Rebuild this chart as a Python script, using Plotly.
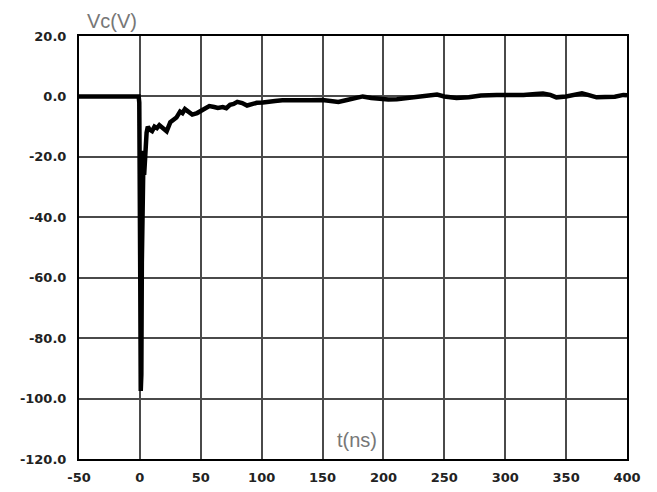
import plotly.graph_objects as go

# time (ns) and voltage Vc (V)
t_ns = [-50, -1, -0.5, 0, 0.3, 0.7, 1.2, 1.6, 2.0, 2.5, 3.0, 3.5, 4.0, 4.5, 5.5, 6.5,
        8, 10, 12, 14, 16, 19, 22, 25, 28, 30, 33, 35, 37, 40, 43, 47, 51, 54, 57,
        61, 64, 68, 71, 74, 77, 80, 84, 88, 92, 96, 101, 106, 111, 117, 124, 131,
        140, 150, 157, 163, 170, 178, 183, 190, 197, 204, 211, 220, 230, 237, 244,
        250, 255, 260, 270, 280, 293, 305, 315, 325, 331, 337, 342, 350, 358, 363,
        368, 375, 382, 390, 397, 400]
vc_v = [0.0, 0.0, -2, -20, -60, -97.5, -92, -55, -35, -25, -18, -26, -20, -13, -12, -10,
        -11, -11.5, -10, -10.5, -9.5, -10.5, -11.5, -8.5, -7.5, -7, -5, -5.5, -4.2, -5, -6,
        -5.5, -4.7, -4, -3.2, -3.5, -3.8, -3.5, -3.9, -2.8, -2.5, -1.8, -2.2, -3, -2.4,
        -2.1, -2.0, -1.9, -1.5, -1.3, -1.4, -1.3, -1.3, -1.2, -1.4, -1.8, -1.2, -0.5,
        0.0, -0.5, -0.8, -1.0, -0.9, -0.5, 0.0, 0.4, 0.6, 0.0, -0.4, -0.5, -0.3, 0.3,
        0.5, 0.3, 0.5, 0.8, 1.0, 0.5, -0.3, 0.0, 0.6, 1.0, 0.5, -0.3, -0.2, -0.1, 0.5, 0.4]

x_ticks = [-50, 0, 50, 100, 150, 200, 250, 300, 350, 400]
y_ticks = [20, 0, -20, -40, -60, -80, -100, -120]
y_tick_text = ["20.0", "0.0", "-20.0", "-40.0", "-60.0", "-80.0", "-100.0", "-120.0"]

fig = go.Figure()
fig.add_trace(go.Scatter(x=t_ns, y=vc_v, mode="lines",
                         line=dict(color="black", width=4.5), showlegend=False))

tickfont = dict(family="DejaVu Sans", size=13, color="#222222", weight="bold")

fig.update_layout(
    width=657, height=492,
    margin=dict(l=71, r=38, t=28, b=41),
    paper_bgcolor="white", plot_bgcolor="white",
    xaxis=dict(range=[-50, 400], tickvals=x_ticks, ticktext=[str(v) for v in x_ticks],
               showgrid=True, gridcolor="#4a4a4a", gridwidth=1.5,
               showline=True, linecolor="black", linewidth=1.5, mirror=True,
               zeroline=False, ticks="", tickfont=tickfont, ticklabelstandoff=6),
    yaxis=dict(range=[-120, 20], tickvals=y_ticks, ticktext=y_tick_text,
               showgrid=True, gridcolor="#4a4a4a", gridwidth=1.5,
               showline=True, linecolor="black", linewidth=2, mirror=True,
               zeroline=False, ticks="", tickfont=tickfont, ticklabelstandoff=8),
    annotations=[
        dict(text="Vc(V)", xref="paper", yref="paper", x=0.011, y=1.035,
             xanchor="left", yanchor="middle", showarrow=False,
             font=dict(family="Liberation Sans", size=20, color="#777777")),
        dict(text="t(ns)", xref="paper", yref="paper", x=0.507, y=0.045,
             xanchor="center", yanchor="middle", showarrow=False,
             font=dict(family="Liberation Sans", size=20, color="#777777")),
    ],
)

fig.write_html("out.html")
